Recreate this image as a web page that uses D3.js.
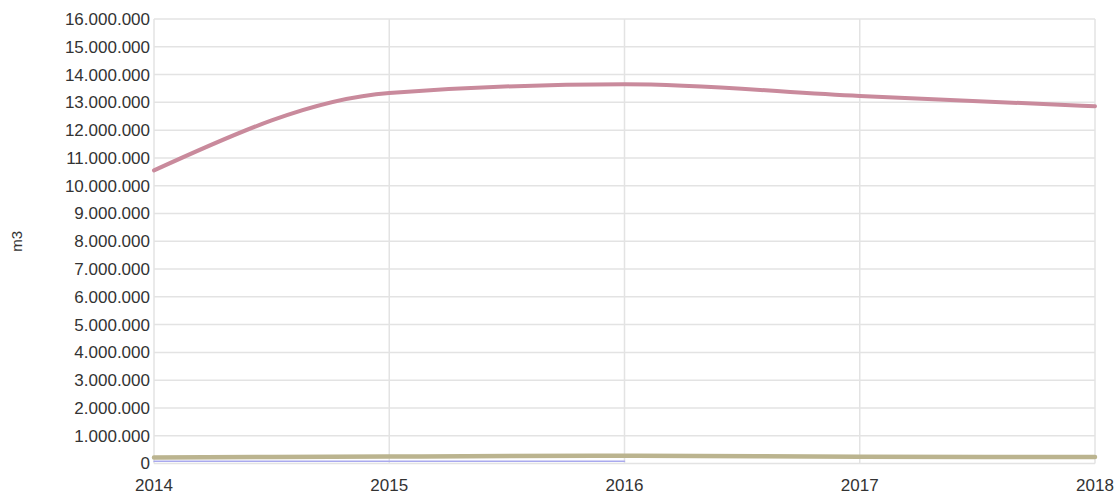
<!DOCTYPE html>
<html>
<head>
<meta charset="utf-8">
<script src="https://cdn.jsdelivr.net/npm/d3@7/dist/d3.min.js"></script>
<style>
  html, body { margin: 0; padding: 0; background: #fff; }
  svg text { font-family: "Liberation Sans", Arial, sans-serif; fill: #333; }
</style>
</head>
<body>
<svg id="chart" width="1115" height="494"></svg>
<script>
// Years on the x axis
const years = [2014, 2015, 2016, 2017, 2018];
// Volume series (m3)
const seriesMain  = [10550000, 13340000, 13650000, 13230000, 12860000];
const seriesOlive = [220000, 250000, 280000, 240000, 230000];
const seriesBlue  = [80000, 80000, 80000];
// Y tick values
const yTicks = d3.range(0, 16000001, 1000000);

const svg = d3.select("#chart");
const plotLeft = 154, plotRight = 1095, plotTop = 19, plotBottom = 463.5;

const x = d3.scaleLinear().domain([2014, 2018]).range([plotLeft, plotRight]);
const y = d3.scaleLinear().domain([0, 16000000]).range([plotBottom, plotTop]);

const fmt = v => d3.format(",")(v).replace(/,/g, ".");

// horizontal grid
svg.append("g").selectAll("line").data(yTicks).join("line")
  .attr("x1", plotLeft).attr("x2", plotRight)
  .attr("y1", d => y(d)).attr("y2", d => y(d))
  .attr("stroke", "#e3e3e3").attr("stroke-width", 1.5);

// vertical grid
svg.append("g").selectAll("line").data(years).join("line")
  .attr("x1", d => x(d)).attr("x2", d => x(d))
  .attr("y1", plotTop).attr("y2", plotBottom)
  .attr("stroke", "#e3e3e3").attr("stroke-width", 1.5);

// y tick labels
svg.append("g").selectAll("text").data(yTicks).join("text")
  .attr("x", plotLeft - 4).attr("y", d => y(d))
  .attr("dy", "0.35em").attr("text-anchor", "end")
  .attr("font-size", 17)
  .text(fmt);

// x tick labels
svg.append("g").selectAll("text").data(years).join("text")
  .attr("x", d => x(d)).attr("y", 491)
  .attr("text-anchor", "middle")
  .attr("font-size", 17)
  .text(d => d);

// axis title
svg.append("text")
  .attr("transform", `translate(22,${(plotTop + plotBottom) / 2}) rotate(-90)`)
  .attr("text-anchor", "middle")
  .attr("font-size", 15)
  .text("m3");

const line = d3.line()
  .x((d, i) => x(years[i]))
  .y(d => y(d))
  .curve(d3.curveMonotoneX);

function drawSeries(values, color, width) {
  svg.append("path")
    .attr("d", line(values))
    .attr("fill", "none")
    .attr("stroke", color)
    .attr("stroke-width", width)
    .attr("stroke-linecap", "round")
    .attr("stroke-linejoin", "round");
}

drawSeries(seriesBlue, "#a9a9ee", 1.5);
drawSeries(seriesOlive, "#bbb48f", 4.5);
drawSeries(seriesMain, "#c98a9c", 4);
</script>
</body>
</html>
